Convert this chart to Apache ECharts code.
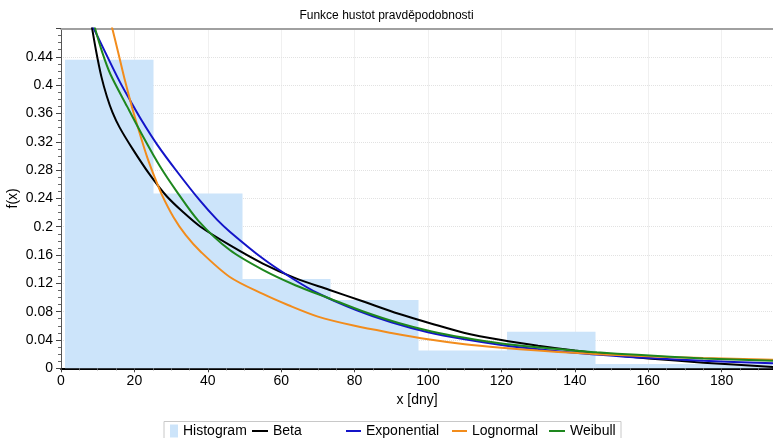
<!DOCTYPE html>
<html>
<head>
<meta charset="utf-8">
<script src="https://cdn.jsdelivr.net/npm/echarts@6/dist/echarts.min.js"></script>
<style>
  html, body { margin: 0; padding: 0; background: #fff; }
  #chart { width: 773px; height: 438px; }
</style>
</head>
<body>
<div id="chart"></div>
<script>
// histogram bins (x [dny]) and bar heights
const binEdges = [1, 25.1, 49.2, 73.3, 97.4, 121.5, 145.6, 169.7, 193.8];
const binHeights = [0.436, 0.247, 0.126, 0.0965, 0.025, 0.0515, 0.006, 0.006];

// fitted densities as [x, f(x)]
const betaPts = [[8, 0.495], [9.5, 0.45], [11, 0.412], [12.5, 0.384], [14, 0.362], [16, 0.34], [19.5, 0.31],
  [24, 0.275], [28.8, 0.243], [33.4, 0.22], [38, 0.2], [46, 0.174], [55, 0.148], [64, 0.127], [73, 0.111],
  [82, 0.095], [92, 0.077], [101, 0.063], [110, 0.05], [120, 0.04], [130, 0.032], [140, 0.025], [150, 0.019],
  [160, 0.014], [175, 0.008], [194, 0.002]];
const expPts = [[8, 0.49], [12, 0.447], [16, 0.405], [19, 0.377], [22, 0.35], [26.2, 0.316], [31.6, 0.278],
  [38, 0.236], [42.5, 0.21], [46, 0.193], [55, 0.155], [62.4, 0.129], [70, 0.106], [80.6, 0.082], [90, 0.065],
  [100, 0.051], [110, 0.041], [120, 0.033], [130, 0.027], [140, 0.022], [155, 0.016], [175, 0.0107], [194, 0.007]];
const lognormPts = [[13.5, 0.49], [15.5, 0.448], [17.5, 0.405], [19.5, 0.366], [21.5, 0.331], [23.5, 0.298],
  [25.5, 0.27], [27.5, 0.245], [30.7, 0.213], [34, 0.188], [38, 0.165], [46, 0.129], [55, 0.105], [62, 0.089],
  [70, 0.073], [80, 0.06], [90, 0.05], [100, 0.041], [110, 0.034], [120, 0.029], [130, 0.025], [141, 0.0215],
  [155, 0.018], [175, 0.0145], [194, 0.0122]];
const weibullPts = [[9, 0.485], [11.2, 0.447], [13.5, 0.415], [18, 0.37], [22.5, 0.326], [27, 0.285], [31.5, 0.25],
  [37.5, 0.208], [46, 0.167], [55, 0.139], [64, 0.117], [73, 0.099], [82, 0.081], [92, 0.064], [101, 0.052],
  [110, 0.043], [120, 0.035], [129, 0.03], [138, 0.026], [146, 0.0225], [157, 0.019], [175, 0.014], [194, 0.0105]];

const font = 'Liberation Sans, Arial, sans-serif';
const histColor = '#cce4fa';

const histData = binHeights.map((h, i) => [binEdges[i], binEdges[i + 1], h]);

// one legend per entry so they sit in the same columns as the original
const legendItem = (name, left, icon, w, h) => ({
  data: [{ name: name, icon: icon }],
  left: left,
  top: 424,
  padding: 0,
  itemWidth: w,
  itemHeight: h,
  selectedMode: false,
  textStyle: { fontFamily: font, fontSize: 14, color: '#000' }
});

const lineSeries = (name, data, color) => ({
  name: name,
  type: 'line',
  data: data,
  smooth: 0.3,
  showSymbol: false,
  symbol: 'none',
  clip: true,
  itemStyle: { color: color },
  lineStyle: { color: color, width: 2 },
  z: 3
});

const chart = echarts.init(document.getElementById('chart'));
chart.setOption({
  animation: false,
  backgroundColor: '#fff',
  title: {
    text: 'Funkce hustot pravděpodobnosti',
    left: 'center',
    top: 5,
    textStyle: { fontFamily: font, fontSize: 12, fontWeight: 'normal', color: '#000' }
  },
  legend: [
    legendItem('Histogram', 170, 'rect', 8, 13),
    legendItem('Beta', 252, 'rect', 16, 2),
    legendItem('Exponential', 346, 'rect', 15, 2),
    legendItem('Lognormal', 452, 'rect', 15, 2),
    legendItem('Weibull', 549, 'rect', 16, 2)
  ],
  graphic: [{
    type: 'rect',
    shape: { x: 164, y: 421.5, width: 457, height: 30 },
    style: { fill: 'none', stroke: '#c8c8c8', lineWidth: 1 },
    silent: true
  }],
  grid: { left: 61, right: 0, top: 28.5, bottom: 69.7, outerBoundsMode: 'none' },
  xAxis: [{
    type: 'value',
    min: 0,
    max: 194,
    interval: 20,
    name: 'x [dny]',
    nameLocation: 'middle',
    nameGap: 22,
    nameTextStyle: { fontFamily: font, fontSize: 14, color: '#000' },
    axisLine: { lineStyle: { color: '#000', width: 2 } },
    axisTick: { length: 4, lineStyle: { color: '#444' } },
    minorTick: { show: true, splitNumber: 4, length: 2, lineStyle: { color: '#666' } },
    axisLabel: { fontFamily: font, fontSize: 14, color: '#000', margin: 6, showMaxLabel: false },
    splitLine: { show: true, lineStyle: { color: '#e2e2e2', type: 'dotted' } }
  }, {
    // top frame line only
    type: 'value',
    position: 'top',
    min: 0,
    max: 194,
    axisLine: { show: true, lineStyle: { color: '#a0a0a0', width: 2 } },
    axisTick: { show: false },
    axisLabel: { show: false },
    splitLine: { show: false }
  }],
  yAxis: {
    type: 'value',
    min: 0,
    max: 0.48,
    interval: 0.04,
    offset: 3,
    name: 'f(x)',
    nameLocation: 'middle',
    nameGap: 38,
    nameMoveOverlap: false,
    nameRotate: 90,
    nameTextStyle: { fontFamily: font, fontSize: 14, color: '#000' },
    axisLine: { show: true, lineStyle: { color: '#555', width: 1 } },
    axisTick: { show: true, length: 5, lineStyle: { color: '#444' } },
    minorTick: { show: true, splitNumber: 4, length: 3, lineStyle: { color: '#666' } },
    axisLabel: { fontFamily: font, fontSize: 14, color: '#000', margin: 5, showMaxLabel: false },
    splitLine: { show: true, lineStyle: { color: '#e2e2e2', type: 'dotted' } }
  },
  series: [
    {
      name: 'Histogram',
      type: 'custom',
      data: histData,
      encode: { x: [0, 1], y: 2 },
      itemStyle: { color: histColor },
      z: 1,
      renderItem: (params, api) => {
        const topLeft = api.coord([api.value(0), api.value(2)]);
        const bottomRight = api.coord([api.value(1), 0]);
        const x0 = Math.round(topLeft[0]);
        const x1 = Math.round(bottomRight[0]);
        return {
          type: 'rect',
          shape: {
            x: x0,
            y: topLeft[1],
            width: x1 - x0 + 0.5,
            height: bottomRight[1] - topLeft[1]
          },
          style: { fill: histColor }
        };
      }
    },
    lineSeries('Beta', betaPts, '#000000'),
    lineSeries('Exponential', expPts, '#1414c8'),
    lineSeries('Lognormal', lognormPts, '#f28c1c'),
    lineSeries('Weibull', weibullPts, '#1e871e')
  ]
});
</script>
</body>
</html>
